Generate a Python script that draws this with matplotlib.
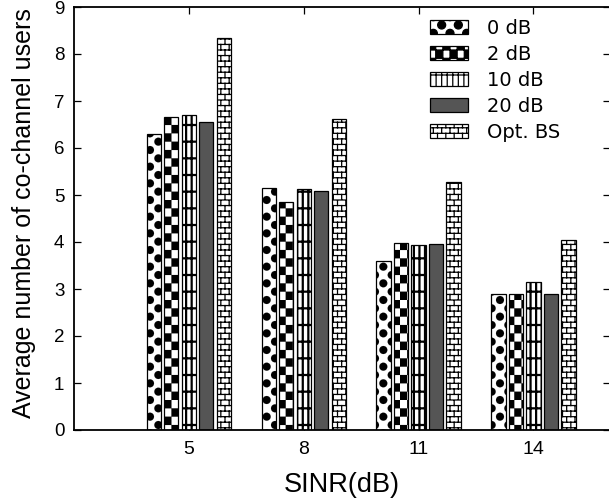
import matplotlib
matplotlib.use("Agg")
import numpy as np
import matplotlib.pyplot as plt
import matplotlib.hatch as mhatch
from matplotlib.path import Path

# ---------------- data ----------------
sinr = [5, 8, 11, 14]
series_labels = ["0 dB", "2 dB", "10 dB", "20 dB", "Opt. BS"]
users_0db = [6.29, 5.14, 3.60, 2.89]
users_2db = [6.67, 4.86, 3.97, 2.89]
users_10db = [6.70, 5.13, 3.93, 3.14]
users_20db = [6.55, 5.09, 3.96, 2.89]
users_opt = [8.35, 6.61, 5.28, 4.04]
y_ticks = list(range(0, 10))


# ---------------- custom hatch patterns ----------------
class _Pattern(mhatch.HatchPatternBase):
    char = None

    def __init__(self, hatch, density):
        n = hatch.count(self.char) if hatch else 0
        if n:
            self._v, self._c = self.build(n, density)
            self.num_vertices = len(self._v)
        else:
            self.num_vertices = 0

    def set_vertices_and_codes(self, vertices, codes):
        vertices[:] = self._v
        codes[:] = self._c


class BigDots(_Pattern):          # replaces '.'
    char = "."

    def build(self, n, density):
        ncol = n * density
        nrow = 2 * ncol
        circ = Path.unit_circle()
        r = 0.24 / ncol
        vs, cs = [], []
        for row in range(nrow + 1):
            y = row / nrow
            if row % 2 == 0:
                xs = np.arange(ncol + 1) / ncol
            else:
                xs = (np.arange(ncol) + 0.5) / ncol
            for x in xs:
                vs.append(circ.vertices * r + [x, y])
                cs.append(circ.codes)
        return np.concatenate(vs), np.concatenate(cs)


class Checker(_Pattern):          # replaces '*'
    char = "*"

    def build(self, n, density):
        mx = 14 * n
        my = 12 * n
        sx, sy = 1.0 / mx, 1.0 / my
        vs, cs = [], []
        for i in range(mx):
            for j in range(my):
                if (i + j) % 2 == 0:
                    x, y = i * sx, j * sy
                    vs.append([[x, y], [x + sx, y], [x + sx, y + sy],
                               [x, y + sy], [x, y]])
                    cs.append([Path.MOVETO, Path.LINETO, Path.LINETO,
                               Path.LINETO, Path.CLOSEPOLY])
        return np.concatenate(vs).astype(float), np.concatenate(cs)


class Bricks(_Pattern):           # replaces 'O'
    char = "O"

    def build(self, n, density):
        nr = 18 * n
        nb = 12 * n
        vs, cs = [], []
        for r in range(nr + 1):
            y = r / nr
            vs.append([[0, y], [1, y]])
            cs.append([Path.MOVETO, Path.LINETO])
        for r in range(nr):
            y0, y1 = r / nr, (r + 1) / nr
            if r % 2 == 0:
                xs = np.arange(nb + 1) / nb
            else:
                xs = (np.arange(nb) + 0.5) / nb
            for x in xs:
                vs.append([[x, y0], [x, y1]])
                cs.append([Path.MOVETO, Path.LINETO])
        return np.concatenate(vs).astype(float), np.concatenate(cs)


_types = mhatch._hatch_types
_types[_types.index(mhatch.SmallFilledCircles)] = BigDots
_types[_types.index(mhatch.Stars)] = Checker
_types[_types.index(mhatch.LargeCircles)] = Bricks

# ---------------- figure ----------------
plt.rcParams["font.family"] = ["Liberation Sans", "DejaVu Sans"]

fig = plt.figure(figsize=(6.09, 5.01), dpi=100)
ax = fig.add_axes([74 / 609, 71 / 501, 536 / 609, 423 / 501])

series = [users_0db, users_2db, users_10db, users_20db, users_opt]
styles = [
    dict(color="white", hatch=".", hlw=0.1),
    dict(color="white", hatch="*", hlw=0.1),
    dict(color="white", hatch="|||-", hlw=1.6),
    dict(color="#555555", hatch=None, hlw=1.0),
    dict(color="white", hatch="O", hlw=0.9),
]

x = np.array(sinr, dtype=float)
step = 0.457
width = 0.37
for k, (vals, st, lab) in enumerate(zip(series, styles, series_labels)):
    plt.rcParams["hatch.linewidth"] = st["hlw"]
    bars = ax.bar(x + (k - 2) * step, vals, width=width, color=st["color"],
                  edgecolor="black", linewidth=0.9, hatch=st["hatch"],
                  label=lab, zorder=2)
    for b in bars:
        if hasattr(b, "set_hatch_linewidth"):
            b.set_hatch_linewidth(st["hlw"])

ax.set_xlim(2, 16)
ax.set_ylim(0, 9)
ax.set_xticks(sinr)
ax.set_yticks(y_ticks)
ax.tick_params(direction="in", top=True, right=True, length=5, width=0.9)
ax.tick_params(axis="y", pad=7, labelsize=13.5)
ax.tick_params(axis="x", pad=8, labelsize=14)
for s in ax.spines.values():
    s.set_linewidth(1.3)

ax.set_xlabel("SINR(dB)", fontsize=19.5, labelpad=10)
ax.set_ylabel("Average number of co-channel users", fontsize=18)
ax.yaxis.set_label_coords(-0.071, 0.514)

leg = ax.legend(loc="upper left", bbox_to_anchor=(430 / 609, 1 - 19 / 501),
                bbox_transform=fig.transFigure, frameon=False,
                prop={"family": "DejaVu Sans", "size": 14},
                handlelength=1.95, handleheight=0.72, handletextpad=1.0,
                labelspacing=0.36, borderpad=0, borderaxespad=0)

fig.savefig("out.png", dpi=100)
